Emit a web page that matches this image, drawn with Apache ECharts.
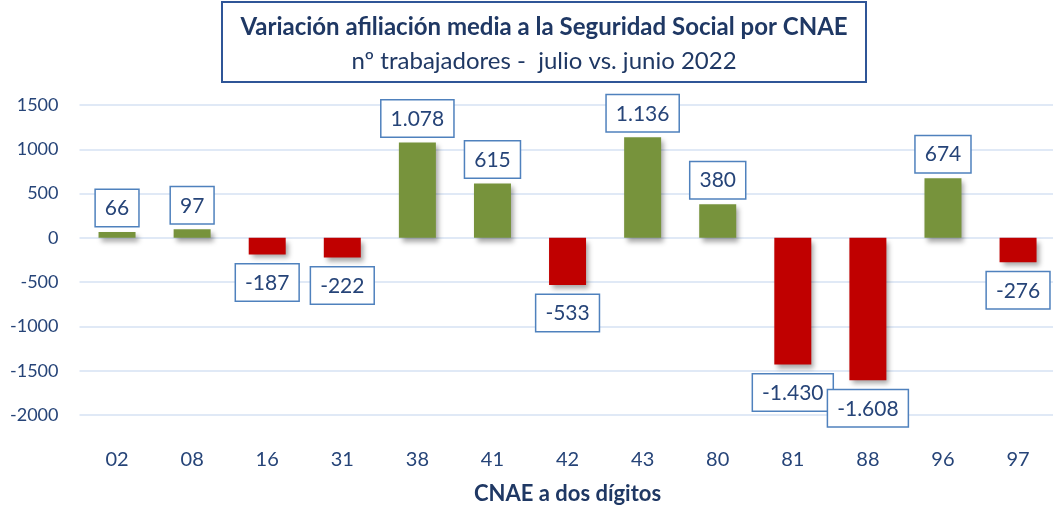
<!DOCTYPE html>
<html>
<head>
<meta charset="utf-8">
<script src="https://cdn.jsdelivr.net/npm/echarts@6/dist/echarts.min.js"></script>
<style>
  html, body { margin: 0; padding: 0; background: #fff; }
  #chart { width: 1053px; height: 506px; }
</style>
</head>
<body>
<div id="chart"></div>
<script>
// datos: variación afiliación por CNAE (julio vs junio 2022)
const categories = ['02', '08', '16', '31', '38', '41', '42', '43', '80', '81', '88', '96', '97']
const values = [66, 97, -187, -222, 1078, 615, -533, 1136, 380, -1430, -1608, 674, -276]
const yTicks = [-2000, 1500, 500] // min, max, intervalo

const textBlue = '#264478'
const fontFam = 'Lato, "Open Sans", sans-serif'

// miles con punto, como en el original
const fmt = v => {
  const s = Math.abs(v).toString().replace(/\B(?=(\d{3})+(?!\d))/g, '.')
  return (v < 0 ? '-' : '') + s
}

const seriesData = values.map(v => ({
  value: v,
  itemStyle: { color: v >= 0 ? '#77933c' : '#c00000' },
  label: {
    position: v >= 0 ? 'top' : 'bottom',
    distance: v >= 0 ? 6 : 10
  }
}))

const chart = echarts.init(document.getElementById('chart'))
chart.setOption({
  animation: false,
  grid: {
    left: 79.5, right: -2.6, top: 105, bottom: 91,
    containLabel: false, outerBoundsMode: 'none'
  },
  graphic: [
    {
      type: 'rect',
      shape: { x: 222, y: 2, width: 644, height: 80 },
      style: { fill: '#fff', stroke: '#2f5597', lineWidth: 2 },
      z: 100
    },
    {
      type: 'text',
      x: 544, y: 27,
      style: {
        text: 'Variación afiliación media a la Seguridad Social por CNAE',
        fill: '#1f3864', font: 'bold 24px ' + fontFam,
        textAlign: 'center', textVerticalAlign: 'middle'
      },
      z: 101
    },
    {
      type: 'text',
      x: 544, y: 61,
      style: {
        text: 'nº trabajadores -  julio vs. junio 2022',
        fill: '#1f3864', font: '24px ' + fontFam,
        textAlign: 'center', textVerticalAlign: 'middle'
      },
      z: 101
    }
  ],
  xAxis: {
    type: 'category',
    data: categories,
    axisLine: { show: false, onZero: false },
    axisTick: { show: false },
    axisLabel: { color: textBlue, fontSize: 20, fontFamily: fontFam, margin: 35 },
    name: 'CNAE a dos dígitos',
    nameLocation: 'middle',
    nameGap: 68,
    nameTextStyle: { color: '#1f3864', fontSize: 22, fontWeight: 'bold', fontFamily: fontFam }
  },
  yAxis: {
    type: 'value',
    min: yTicks[0],
    max: yTicks[1],
    interval: yTicks[2],
    axisLine: { show: false },
    axisTick: { show: false },
    axisLabel: {
      color: textBlue, fontSize: 18, fontFamily: fontFam, margin: 21,
      formatter: v => String(v)
    },
    splitLine: { lineStyle: { color: '#d6e2f3', width: 1.5 } }
  },
  series: [{
    type: 'bar',
    data: seriesData,
    barWidth: 37,
    itemStyle: {
      shadowBlur: 5,
      shadowOffsetX: 3,
      shadowOffsetY: 4,
      shadowColor: 'rgba(0,0,0,0.35)'
    },
    label: {
      show: true,
      formatter: p => fmt(p.value),
      color: textBlue,
      fontSize: 21,
      fontFamily: fontFam,
      backgroundColor: '#fff',
      borderColor: '#4f81bd',
      borderWidth: 1.5,
      padding: [8, 9, 7, 9]
    }
  }]
})
</script>
</body>
</html>
